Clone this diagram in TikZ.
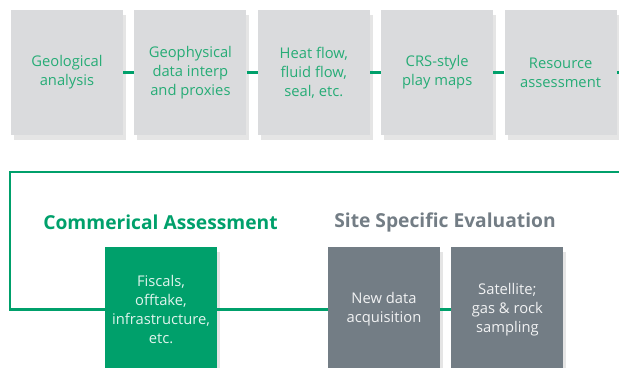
\documentclass[tikz,border=0pt]{standalone}
\usepackage{fontspec}
\setmainfont{Open Sans}
\usetikzlibrary{positioning}
\usetikzlibrary{shadows}
\definecolor{boxgrey}{RGB}{218,219,221}
\definecolor{darkgrey}{RGB}{115,125,133}
\definecolor{leafgreen}{RGB}{0,160,107}
\definecolor{textgreen}{RGB}{38,172,118}

\begin{document}
\begin{tikzpicture}[x=1bp, y=-1bp,
                node distance=11bp,
                softshadow/.style={drop shadow={shadow xshift=3bp, shadow yshift=-5bp, fill=black, opacity=0.10}},
                greysquarednode/.style={rectangle, fill=boxgrey, minimum width=112bp, minimum height=125bp, inner sep=2bp, align=center, text=textgreen, font=\fontsize{14.8}{19}\selectfont, softshadow},
                greensquarednode/.style={greysquarednode, fill=leafgreen, text=white!88!leafgreen},
                darksquarednode/.style={greysquarednode, fill=darkgrey, text=white!90!darkgrey},
                heading/.style={font=\fontsize{19.3}{24}\selectfont\bfseries},
                link/.style={draw=leafgreen, line width=2.2bp},
                ]
                \clip (0,0) rectangle (619,367);

                % top row
                \node[greysquarednode] (geo) at (67,72.5) {Geological\\analysis};
                \node[greysquarednode, right=of geo] (geophys) {Geophysical\\data interp\\and proxies};
                \node[greysquarednode, right=of geophys] (heat) {Heat flow,\\fluid flow,\\seal, etc.};
                \node[greysquarednode, right=of heat] (crs) {CRS-style\\play maps};
                \node[greysquarednode, right=of crs] (resource) {Resource\\assessment};
                \coordinate (topend) at (619,72.5);

                \draw[link] (geo.east) -- (geophys.west);
                \draw[link] (geophys.east) -- (heat.west);
                \draw[link] (heat.east) -- (crs.west);
                \draw[link] (crs.east) -- (resource.west);
                \draw[link] (resource.east) -- (topend);

                % headings
                \node[heading, text=leafgreen] (commercial) at (160.5,222.5) {Commerical Assessment};
                \node[heading, text=darkgrey] (site) at (445,222.5) {Site Specific Evaluation};

                % bottom row
                \node[greensquarednode] (fiscal) at (161,309.5) {Fiscals,\\offtake,\\infrastructure,\\etc.};
                \node[darksquarednode] (newdata) at (384,309.5) {New data\\acquisition};
                \node[darksquarednode, right=of newdata] (satellite) {Satellite;\\gas \& rock\\sampling};

                % frame
                \coordinate (frametop) at (619,172);
                \coordinate (framecorner) at (10,172);
                \draw[link] (frametop) -- (framecorner) |- (fiscal.west);
                \draw[link] (fiscal.east) -- (newdata.west);
                \draw[link] (newdata.east) -- (satellite.west);
            \end{tikzpicture}
\end{document}
